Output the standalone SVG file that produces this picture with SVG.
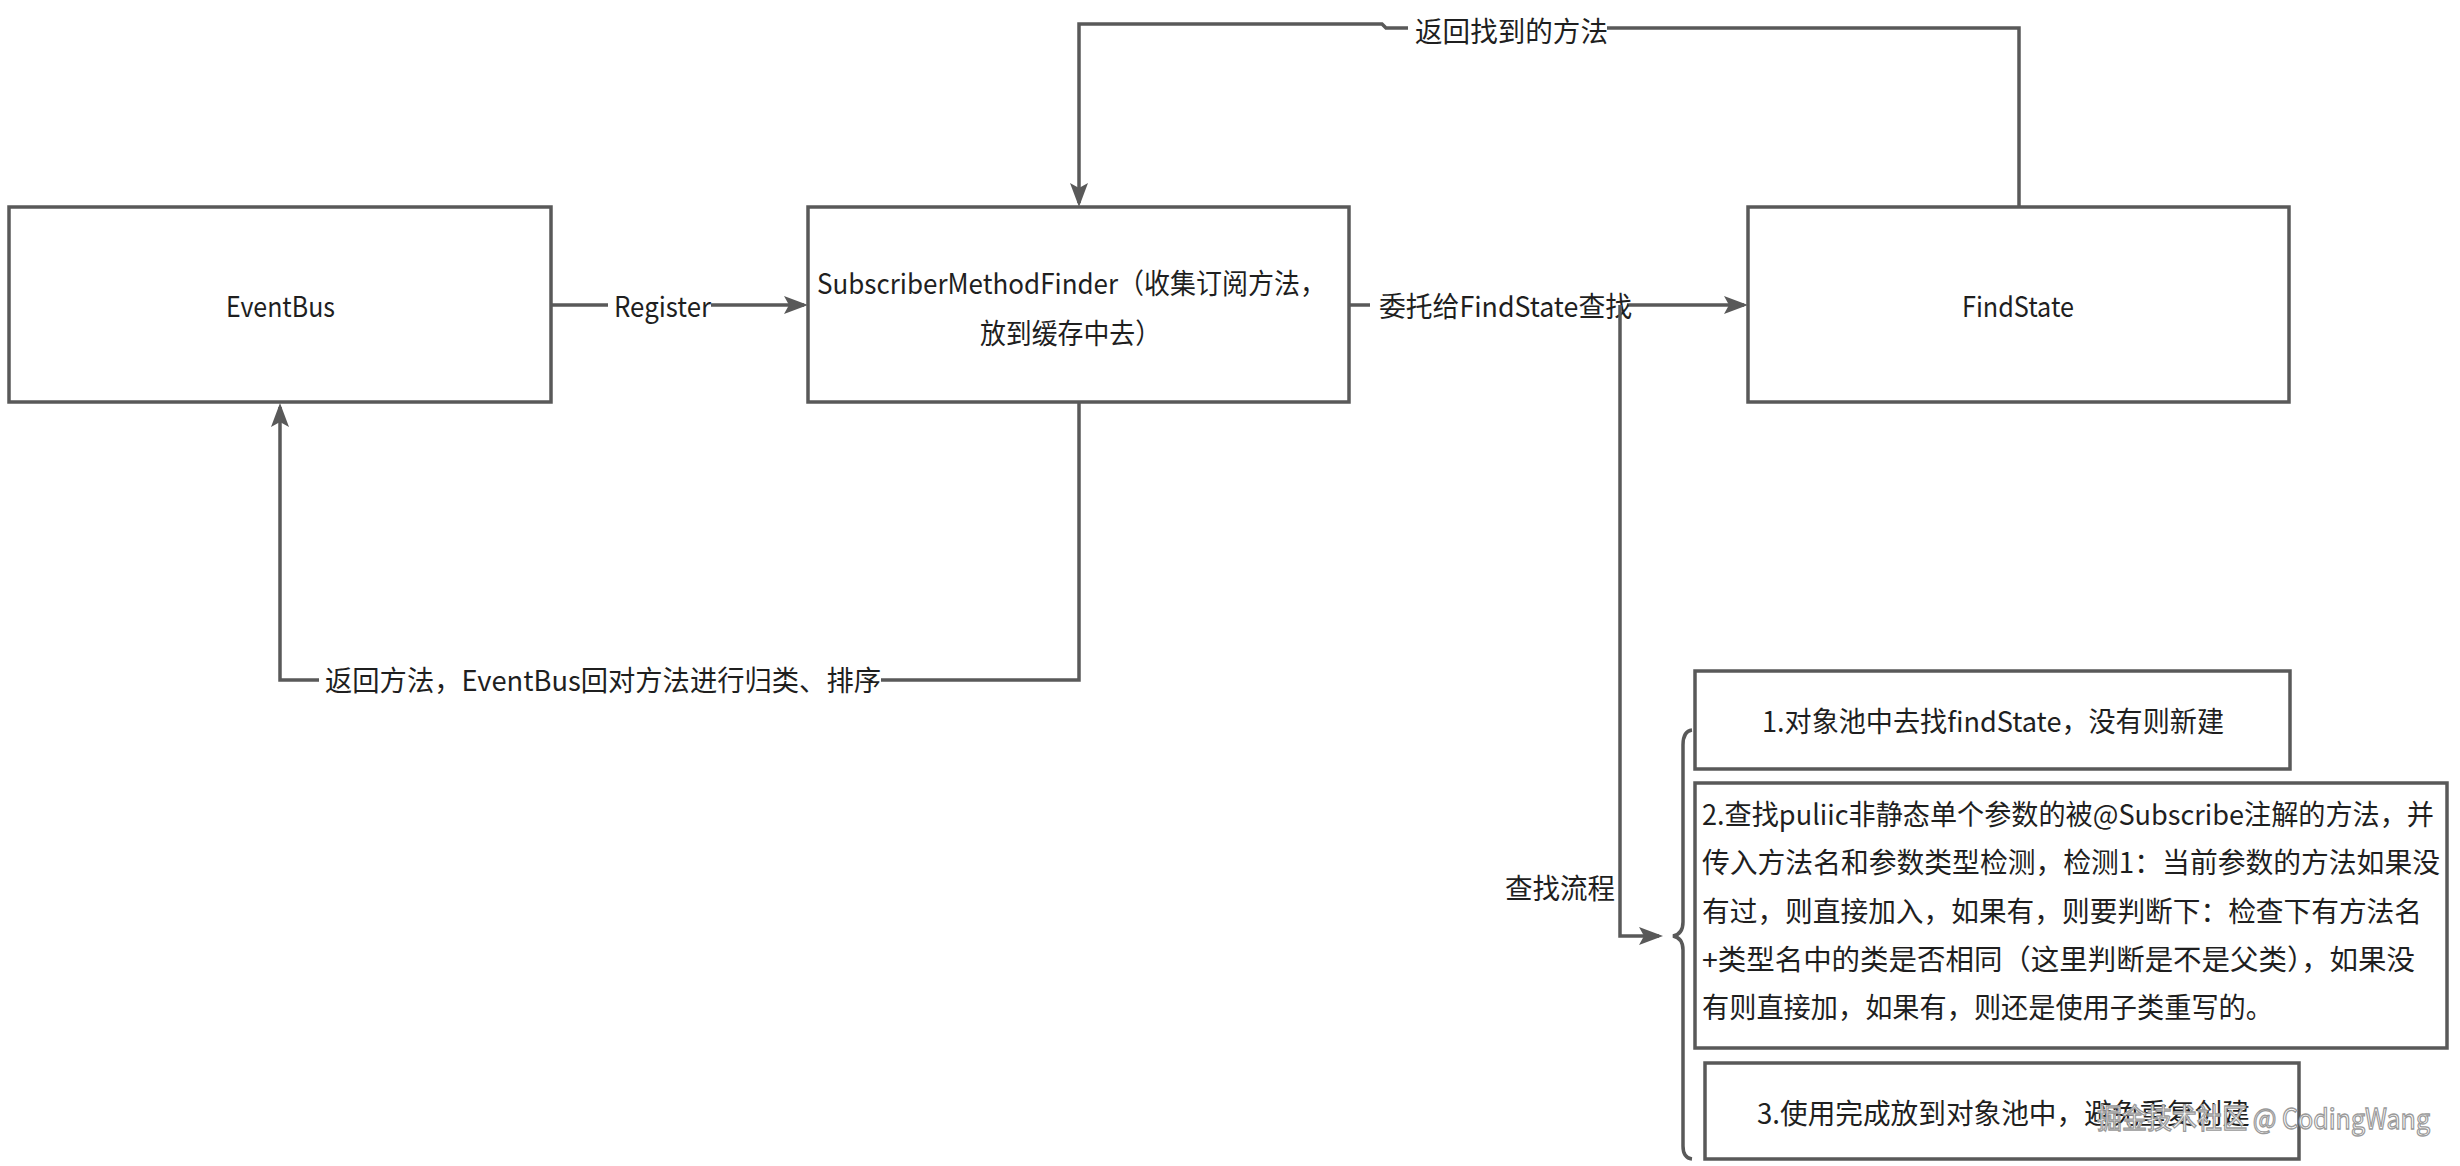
<svg xmlns="http://www.w3.org/2000/svg" width="2460" height="1166" viewBox="0 0 2460 1166">
<style>
.box{fill:#fff;stroke:#595959;stroke-width:3.5}
.ln{fill:none;stroke:#595959;stroke-width:3.5}
.t{font-family:'Noto Sans CJK SC','Noto Sans',sans-serif;font-size:28px;fill:#1f1f1f;dominant-baseline:central}
.bg{fill:#fff}
.wm{font-family:'Noto Sans CJK SC','Noto Sans',sans-serif;font-size:28px;fill:#ffffff;stroke:#9a9a9a;stroke-width:1.3;dominant-baseline:central}
</style>
<defs>
<marker id="arr" viewBox="0 0 24 20" refX="20" refY="10" markerWidth="24" markerHeight="20" markerUnits="userSpaceOnUse" orient="auto">
<path d="M0,1 L24,10 L0,19 L5,10 Z" fill="#595959"/>
</marker>
</defs>

<g id="connectors">
<path class="ln" d="M552,305 H804" marker-end="url(#arr)"/>
<path class="ln" d="M1350,305 H1744" marker-end="url(#arr)"/>
<path class="ln" d="M2019,207 V28 H1386 L1382,24 H1079 V203" marker-end="url(#arr)"/>
<path class="ln" d="M1079,403 V680 H280 V407" marker-end="url(#arr)"/>
<rect class="bg" x="608" y="290" width="103" height="32"/>
<text class="t" x="614" y="305" textLength="97" lengthAdjust="spacingAndGlyphs">Register</text>
<rect class="bg" x="1370" y="288" width="257" height="34"/>
<text class="t" x="1379" y="305" textLength="253" lengthAdjust="spacingAndGlyphs">委托给FindState查找</text>
<rect class="bg" x="1408" y="12" width="199" height="34"/>
<text class="t" x="1415" y="30" textLength="193" lengthAdjust="spacingAndGlyphs">返回找到的方法</text>
<rect class="bg" x="319" y="662" width="562" height="34"/>
<text class="t" x="325" y="679" textLength="556" lengthAdjust="spacingAndGlyphs">返回方法，EventBus回对方法进行归类、排序</text>
<path class="ln" d="M1620,305 V936 H1659" marker-end="url(#arr)"/>
<text class="t" x="1505" y="887" textLength="110" lengthAdjust="spacingAndGlyphs">查找流程</text>
<path class="ln" d="M1692,730 Q1683,731 1683,745 V922 Q1683,934 1673,936 Q1683,938 1683,950 V1146 Q1683,1158 1692,1159"/>
</g>

<g id="node-eventbus">
<rect class="box" x="9" y="207" width="542" height="195"/>
<text class="t" x="226" y="305" textLength="109" lengthAdjust="spacingAndGlyphs">EventBus</text>
</g>

<g id="node-smf">
<rect class="box" x="808" y="207" width="541" height="195"/>
<text class="t" x="817" y="282" textLength="509" lengthAdjust="spacingAndGlyphs">SubscriberMethodFinder（收集订阅方法，</text>
<text class="t" x="980" y="332" textLength="181" lengthAdjust="spacingAndGlyphs">放到缓存中去）</text>
</g>

<g id="node-findstate">
<rect class="box" x="1748" y="207" width="541" height="195"/>
<text class="t" x="1962" y="305" textLength="112" lengthAdjust="spacingAndGlyphs">FindState</text>
</g>

<g id="node-step1">
<rect class="box" x="1695" y="671" width="595" height="98"/>
<text class="t" x="1762" y="720" textLength="462" lengthAdjust="spacingAndGlyphs">1.对象池中去找findState，没有则新建</text>
</g>

<g id="node-step2">
<rect class="box" x="1695" y="783" width="752" height="265"/>
<text class="t" x="1702" y="813" textLength="732" lengthAdjust="spacingAndGlyphs">2.查找puliic非静态单个参数的被@Subscribe注解的方法，并</text>
<text class="t" x="1702" y="861" textLength="738" lengthAdjust="spacingAndGlyphs">传入方法名和参数类型检测，检测1：当前参数的方法如果没</text>
<text class="t" x="1702" y="910" textLength="720" lengthAdjust="spacingAndGlyphs">有过，则直接加入，如果有，则要判断下：检查下有方法名</text>
<text class="t" x="1702" y="958" textLength="713" lengthAdjust="spacingAndGlyphs">+类型名中的类是否相同（这里判断是不是父类），如果没</text>
<text class="t" x="1702" y="1006" textLength="571" lengthAdjust="spacingAndGlyphs">有则直接加，如果有，则还是使用子类重写的。</text>
</g>

<g id="node-step3">
<rect class="box" x="1705" y="1063" width="594" height="96"/>
<text class="t" x="1757" y="1112" textLength="493" lengthAdjust="spacingAndGlyphs">3.使用完成放到对象池中，避免重复创建</text>
</g>

<text class="wm" x="2097" y="1117" textLength="333" lengthAdjust="spacingAndGlyphs">掘金技术社区 @ CodingWang</text>
</svg>
